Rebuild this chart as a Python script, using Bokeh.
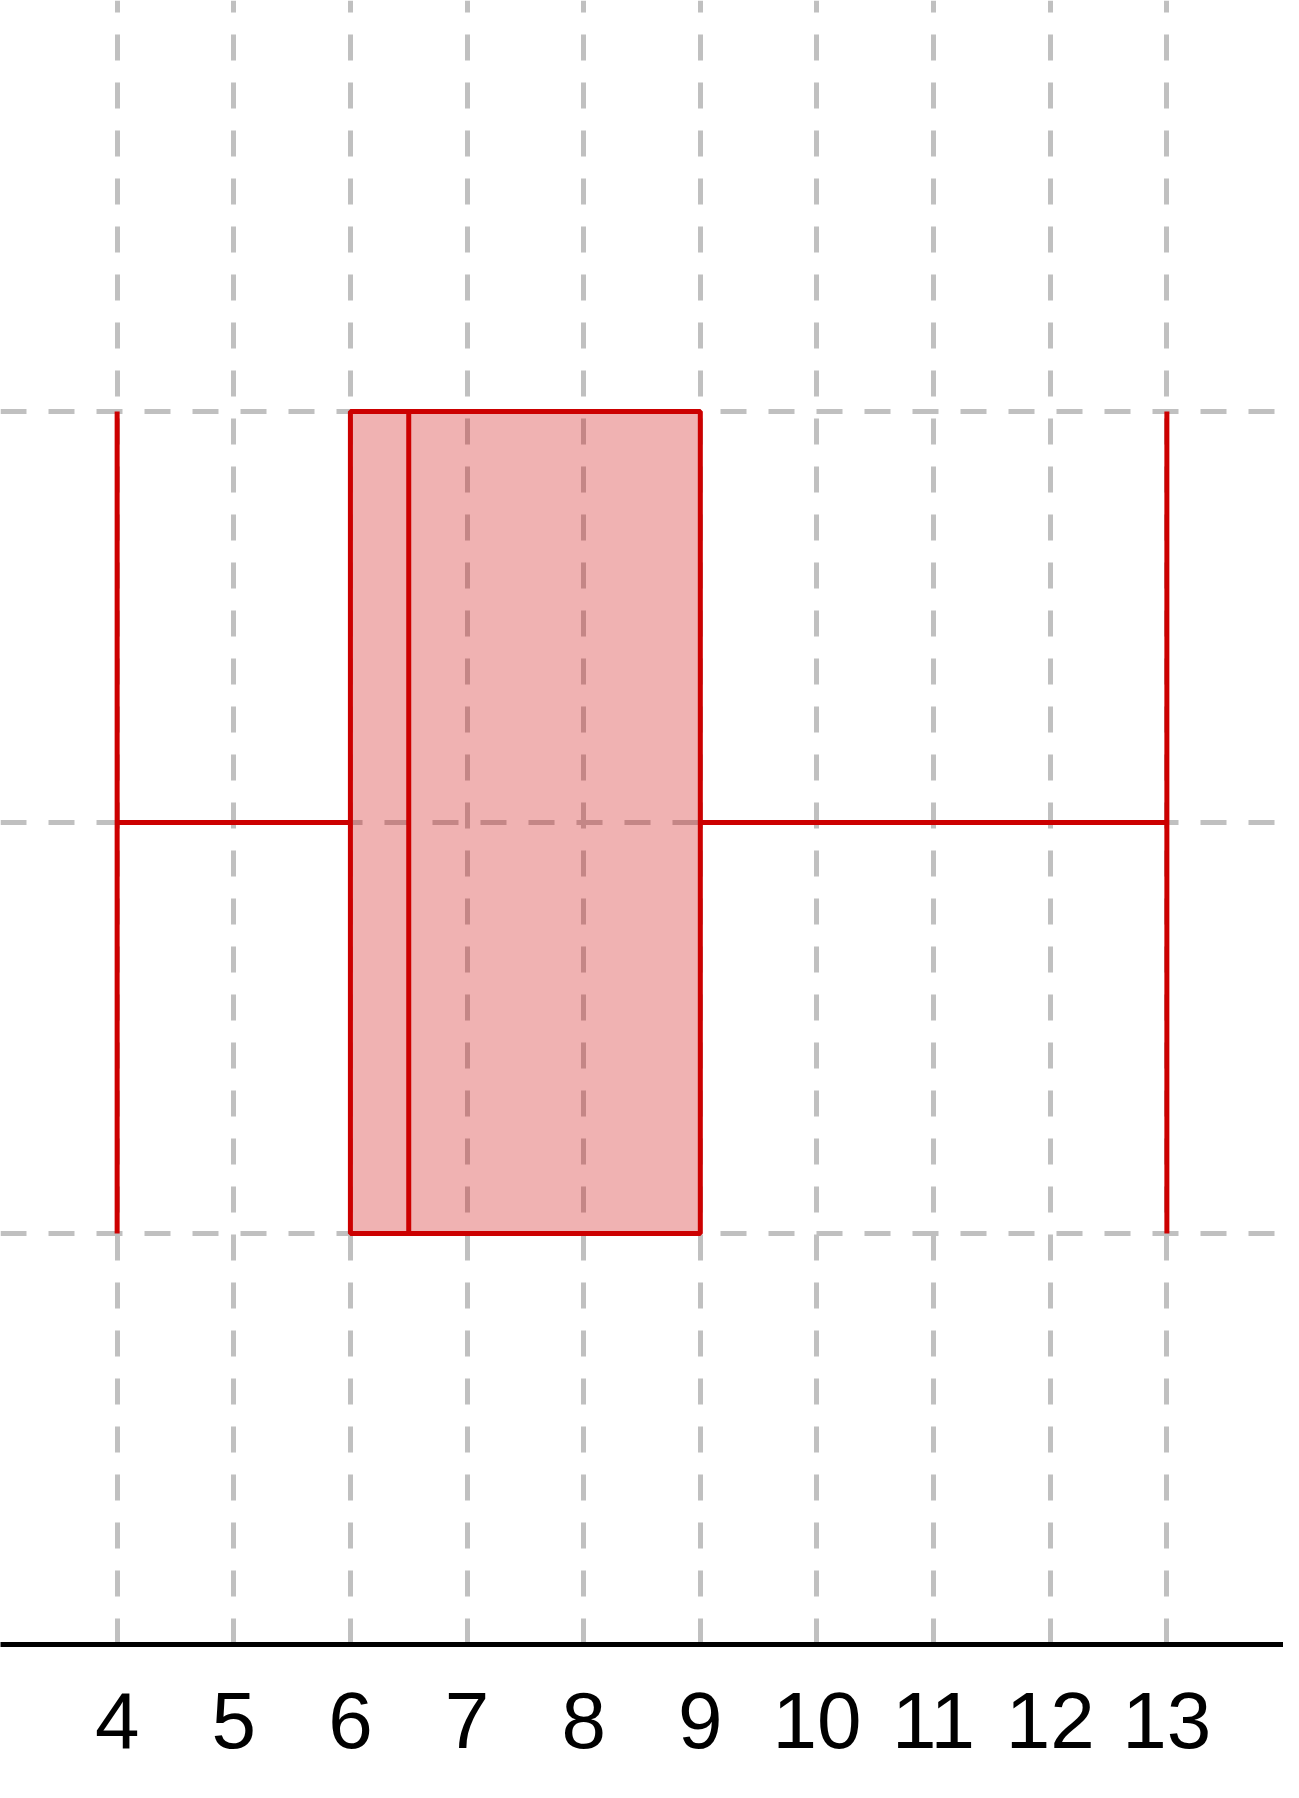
from bokeh.plotting import figure
from bokeh.models import ColumnDataSource, FixedTicker, Range1d
from bokeh.embed import file_html
from bokeh.resources import INLINE

# box plot statistics (single horizontal box)
lower_whisker = [4]
q1 = [6]
median = [6.5]
q3 = [9]
upper_whisker = [13]
x_ticks = [4, 5, 6, 7, 8, 9, 10, 11, 12, 13]

red = "#cc0000"
center = 2
half = 1

src = ColumnDataSource(data=dict(
    lw=lower_whisker, q1=q1, med=median, q3=q3, uw=upper_whisker,
    y=[center], bot=[center - half], top=[center + half],
))

p = figure(frame_width=1283, frame_height=1644, output_backend="svg",
           toolbar_location=None, y_axis_location=None,
           x_range=Range1d(3, 14), y_range=Range1d(0, 4), min_border=0,
           min_border_bottom=136)
p.outline_line_color = None
p.background_fill_color = "white"

# dashed grid
p.xgrid.ticker = FixedTicker(ticks=list(range(3, 15)))
p.ygrid.ticker = FixedTicker(ticks=[0, 1, 2, 3, 4])
for g in (p.xgrid, p.ygrid):
    g.grid_line_color = "#c0c0c0"
    g.grid_line_width = 5
    g.grid_line_dash = "26 22"

# x axis
p.xaxis.ticker = FixedTicker(ticks=x_ticks)
p.xaxis.axis_line_color = "black"
p.xaxis.axis_line_width = 5
p.xaxis.major_tick_line_color = None
p.xaxis.minor_tick_line_color = None
p.xaxis.major_tick_out = 0
p.xaxis.minor_tick_out = 0
p.xaxis.major_label_standoff = 48
p.xaxis.major_label_text_font = "Liberation Sans"
p.xaxis.major_label_text_font_size = "80px"
p.xaxis.major_label_text_color = "black"

# whiskers
p.segment(x0="lw", y0="y", x1="q1", y1="y", source=src, line_color=red, line_width=5)
p.segment(x0="q3", y0="y", x1="uw", y1="y", source=src, line_color=red, line_width=5)
p.segment(x0="lw", y0="bot", x1="lw", y1="top", source=src, line_color=red, line_width=5)
p.segment(x0="uw", y0="bot", x1="uw", y1="top", source=src, line_color=red, line_width=5)

# box and median
p.quad(left="q1", right="q3", bottom="bot", top="top", source=src,
       fill_color=red, fill_alpha=0.3, line_color=red, line_width=5)
p.segment(x0="med", y0="bot", x1="med", y1="top", source=src, line_color=red, line_width=5)

open("out.html", "w").write(file_html(p, INLINE))
